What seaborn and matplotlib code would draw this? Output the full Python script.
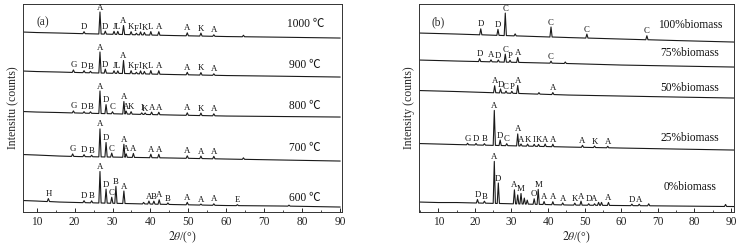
import numpy as np
import pandas as pd
import seaborn as sns
import matplotlib
import matplotlib.pyplot as plt
from matplotlib.ticker import MultipleLocator

matplotlib.use('Agg')

sns.set_theme(style="ticks")
plt.rcParams['font.family'] = ['Liberation Serif', 'Noto Sans CJK SC', 'DejaVu Sans']
plt.rcParams['mathtext.fontset'] = 'stix'

#%% panel (a): ash fired at different temperatures
# background knots (2theta) and intensity at those knots, offset per curve
knots_a = [6.5, 10, 16, 21, 46, 60, 75, 90]
bg_1000 = [180, 179.5, 179, 178.5, 176.5, 175.5, 174.8, 174]
bg_900 = [141, 140.5, 140, 139.5, 137.5, 136.5, 135.8, 135]
bg_800 = [100.5, 100, 99.5, 99, 97, 96, 95.5, 95]
bg_700 = [57.5, 57, 56, 55.5, 54, 53, 52, 51]
bg_600 = [11.5, 11, 10, 9.5, 7.5, 6.5, 6, 5]

# peaks: (2theta, height above background, phase label)
peaks_1000 = [(22.5, 2, "D"), (26.7, 22, "A"), (28.1, 3, "D"), (30.4, 3, "J"),
              (31.4, 3, "L"), (32.9, 9, "A"), (34.9, 3, "K"), (36.3, 1.5, "F"),
              (37.4, 3, "I"), (38.4, 2.5, "K"), (40.1, 3.5, "L"), (42.2, 3.5, "A"),
              (49.7, 3, "A"), (53.3, 3, "K"), (56.7, 1.5, "A"), (64.5, 1.5, "")]
peaks_900 = [(19.7, 2.5, "G"), (22.5, 2, "D"), (24.2, 1.5, "B"), (26.7, 21, "A"),
             (28.1, 4, "D"), (30.4, 2.5, "J"), (31.4, 2.5, "L"), (32.9, 13, "A"),
             (34.9, 3, "K"), (36.3, 1.5, "F"), (37.4, 3, "I"), (38.4, 2.5, "K"),
             (40.1, 3.5, "L"), (42.2, 3.5, "A"), (49.7, 2.5, "A"), (53.3, 2.5, "K"),
             (56.7, 1.5, "A")]
peaks_800 = [(19.7, 2, "G"), (22.5, 1.5, "D"), (24.2, 1.5, "B"), (26.7, 22.5, "A"),
             (28.3, 9, "D"), (30.0, 2, "C"), (33.0, 12.5, "A"), (33.6, 3, "A"),
             (34.9, 2.5, "K"), (37.7, 1.5, "I"), (38.6, 1.5, "K"), (40.3, 2.5, "A"),
             (42.2, 2.5, "A"), (49.7, 2.5, "A"), (53.3, 2.5, "K"), (56.7, 2, "A")]
peaks_700 = [(19.5, 2.5, "G"), (22.5, 2, "D"), (24.5, 1.5, "B"), (26.7, 28, "A"),
             (28.3, 14.5, "D"), (29.8, 4, "C"), (33.0, 13, "A"), (33.6, 3.5, "A"),
             (35.5, 4, "A"), (40.1, 3.5, "A"), (42.2, 3.5, "A"), (49.7, 2.5, "A"),
             (53.3, 2.5, "A"), (56.7, 2.5, "A"), (64.5, 1.5, "")]
peaks_600 = [(13.1, 3, "H"), (22.5, 2, "D"), (24.5, 2, "B"), (26.7, 31.5, "A"),
             (28.3, 14, "D"), (29.8, 6, "C"), (30.9, 17, "B"), (33.0, 12.5, "A"),
             (39.6, 3, "A"), (40.9, 3, "B"), (42.3, 4.5, "A"), (44.6, 1.5, "B"),
             (49.7, 2.5, "A"), (53.3, 1, "A"), (56.7, 1.5, "A"), (62.9, 1, "E"),
             (38.2, 1.5, ""), (76.5, 1, "")]

#%% panel (b): ash from different biomass fractions
knots_b = [4.8, 10, 15, 45.5, 60, 75, 90.8]
bg_100 = [179, 178.5, 178, 174.5, 173, 171.5, 170]
bg_75 = [152, 151.5, 151, 148.5, 147, 146, 145]
bg_50 = [121.5, 121, 120.5, 117, 116, 115, 114]
bg_25 = [68.5, 68, 67.5, 65, 64, 63, 62]
bg_0 = [10, 9.5, 9.5, 7, 6.5, 6, 5.5]

peaks_100 = [(21.6, 6, "D"), (26.3, 6, "D"), (28.3, 22.5, "C"), (31.0, 2, ""),
             (40.8, 10, "C"), (50.6, 4, "C"), (67.0, 4, "C")]
peaks_75 = [(21.3, 3, "D"), (24.4, 2, "A"), (26.4, 2, "D"), (28.3, 8, "C"),
            (29.6, 2, "P"), (31.7, 5, "A"), (40.8, 2, "C"), (44.7, 1.5, "")]
peaks_50 = [(25.4, 7, "A"), (27.0, 4, "D"), (28.5, 2, "C"), (30.1, 2, "P"),
            (31.7, 8, "A"), (41.3, 2, "A"), (37.5, 1.5, "")]
peaks_25 = [(18.0, 1.5, "G"), (20.3, 1.5, "D"), (22.6, 1.5, "B"), (25.3, 35, "A"),
            (26.9, 5.5, "D"), (28.7, 2, "C"), (31.7, 12, "A"), (32.6, 2, "A"),
            (34.4, 2, "K"), (36.2, 2, "I"), (37.4, 2, "K"), (39.2, 2.5, "A"),
            (41.3, 2.5, "A"), (49.4, 2, "A"), (52.7, 1.5, "K"), (56.3, 1.5, "A")]
peaks_0 = [(20.7, 3.5, "D"), (22.6, 2, "B"), (25.3, 42, "A"), (26.4, 20.5, "D"),
           (30.8, 14, "A"), (31.7, 9, ""), (32.6, 10.5, "M"), (33.5, 6, ""),
           (34.3, 4, ""), (36.2, 5.5, "O"), (37.3, 15, "M"), (38.9, 3, "A"),
           (41.3, 3, "A"), (44.0, 2, "A"), (47.3, 2, "K"), (49.0, 4, "A"),
           (51.1, 1.5, "D"), (52.7, 1.5, "A"), (53.8, 3, ""), (54.6, 3, ""),
           (56.5, 3, "A"), (62.9, 1.5, "D"), (64.9, 1.5, "A"), (67.5, 2, ""),
           (88.5, 2, "")]

panel_a = [("1000 ℃", bg_1000, peaks_1000), ("900 ℃", bg_900, peaks_900),
           ("800 ℃", bg_800, peaks_800), ("700 ℃", bg_700, peaks_700),
           ("600 ℃", bg_600, peaks_600)]
panel_b = [("100%biomass", bg_100, peaks_100), ("75%biomass", bg_75, peaks_75),
           ("50%biomass", bg_50, peaks_50), ("25%biomass", bg_25, peaks_25),
           ("0%biomass", bg_0, peaks_0)]

# vertical place (axis units) of each curve name
name_y_a = [188, 147, 106, 64, 14]
name_y_b = [187, 159, 124, 74, 25]


def pattern_frame(name, knots, bg, peaks, width=0.3):
    xs, ys = [], []
    for x, y in zip(knots, bg):
        if all(abs(x - p) > width for p, h, lab in peaks):
            xs.append(x)
            ys.append(y)
    for pos, h, lab in peaks:
        foot = np.interp(pos, knots, bg)
        xs += [pos - width, pos, pos + width]
        ys += [foot, foot + h, foot]
    return pd.DataFrame({"two_theta": xs, "intensity": ys, "sample": name})


#%% figure
fig = plt.figure(figsize=(7.45, 2.48), dpi=100)
ax_a = fig.add_axes([0.0313, 0.145, 0.4274, 0.8387])
ax_b = fig.add_axes([0.5628, 0.145, 0.4224, 0.8387])

setups = [(ax_a, panel_a, knots_a, (6.5, 90.4), "(a)", "Intensitu (counts)", 80.8, name_y_a),
          (ax_b, panel_b, knots_b, (4.8, 90.8), "(b)", "Intensity (counts)", 78.8, name_y_b)]

for ax, panel, knots, xlim, tag, ylab, text_x, name_y in setups:
    df = pd.concat([pattern_frame(n, knots, bg, pk) for n, bg, pk in panel])
    sns.lineplot(data=df, x="two_theta", y="intensity", units="sample",
                 estimator=None, sort=True, color="#1a1a1a", linewidth=0.8, ax=ax)

    for (name, bg, peaks), ny in zip(panel, name_y):
        for pos, h, lab in peaks:
            if not lab:
                continue
            top = np.interp(pos, knots, bg) + h
            ax.annotate(lab, (pos, top), xytext=(0, 0.3), textcoords="offset points",
                        ha="center", va="bottom", fontsize=6.3, color="#111",
                        annotation_clip=False)
        ax.text(text_x, ny, name, ha="center", va="center",
                fontsize=8.3, color="#111")

    ax.text(0.04, 0.94, tag, transform=ax.transAxes, ha="left", va="top", fontsize=8.3)
    ax.set_xlim(*xlim)
    ax.set_ylim(0, 208)
    ax.set_yticks([])
    ax.xaxis.set_major_locator(MultipleLocator(10))
    ax.xaxis.set_minor_locator(MultipleLocator(5))
    ax.tick_params(axis="x", which="both", direction="in", labelsize=8.3, pad=3)
    ax.tick_params(axis="x", which="major", length=3, width=0.7)
    ax.tick_params(axis="x", which="minor", length=1.8, width=0.6)
    ax.set_xlabel(r"$\mathit{2\theta}$/(°)", fontsize=8.5, labelpad=1)
    ax.set_ylabel(ylab, fontsize=8.5, labelpad=3)
    for sp in ax.spines.values():
        sp.set_linewidth(0.7)
        sp.set_color("#333")
        sp.set_visible(True)

fig.savefig("out.png", dpi=100)
